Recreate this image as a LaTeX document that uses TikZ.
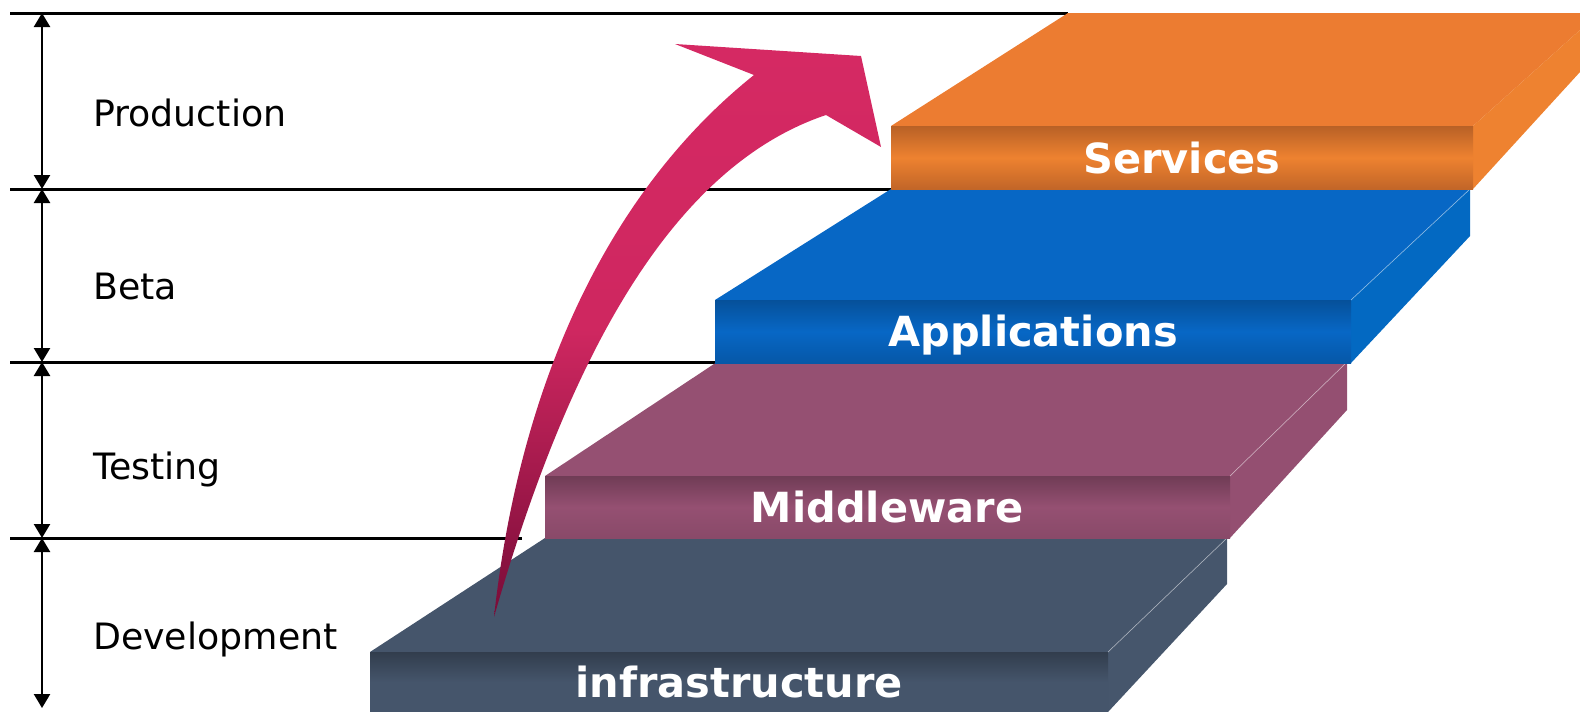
\documentclass[tikz,border=0pt]{standalone}
\usepackage{fontspec}
\setmainfont{DejaVu Sans}
\usetikzlibrary{arrows.meta}
\definecolor{orangetop}{HTML}{EC7C31}
\definecolor{orangeside}{HTML}{EE8230}
\definecolor{bluetop}{HTML}{0767C5}
\definecolor{blueside}{HTML}{0369C2}
\definecolor{plumtop}{HTML}{955072}
\definecolor{plumside}{HTML}{944F71}
\definecolor{slatetop}{HTML}{45556B}
\definecolor{slateside}{HTML}{46566C}
\definecolor{arrowpink}{HTML}{D52963}
\definecolor{arrowdark}{HTML}{790C38}
\tikzset{
  levelline/.style={line width=3pt},
  span/.style={<->,line width=2.5pt},
  lvl/.style={anchor=west,font=\fontsize{36.3}{42}\selectfont,text height=26.5pt,text depth=0pt,inner sep=0pt},
  tier/.style={font=\fontsize{41.5}{48}\selectfont\bfseries,text=white,text height=30pt,text depth=0pt,inner sep=0pt},
  shine/.style={white,opacity=0.45,line width=0.7pt}
}
\begin{document}
\begin{tikzpicture}[x=1pt,y=-1pt,>={Triangle[length=14pt,width=16pt]}]
  \useasboundingbox (0,0) rectangle (1580,712);
  % level lines
  \draw [levelline] (10,13)--(1068,13);
  \draw [levelline] (10,189)--(891,189);
  \draw [levelline] (10,362)--(715,362);
  \draw [levelline] (10,538)--(522,538);
  \coordinate (m0) at (42,13);
  \coordinate (m1) at (42,189);
  \coordinate (m2) at (42,362);
  \coordinate (m3) at (42,538);
  \coordinate (m4) at (42,708);
  \draw [span] (m0)--(m1);
  \draw [span] (m1)--(m2);
  \draw [span] (m2)--(m3);
  \draw [span] (m3)--(m4);
  \node [lvl] (production) at (93,113) {Production};
  \node [lvl] (beta) at (93,286) {Beta};
  \node [lvl] (testing) at (93,466) {Testing};
  \node [lvl] (development) at (93,636) {Development};
  % infrastructure step
  \fill [slatetop] (370,652)--(545,538)--(1227,538)--(1108,652)--cycle;
  \fill [slateside] (1108,652)--(1227,538)--(1227,584)--(1108,712)--cycle;
  \shade [top color=slatetop!72!black,bottom color=slatetop,middle color=slatetop] (370,652)--(1108,652)--(1108,712)--(370,712)--cycle;
  \draw [shine] (1108,652)--(1227,538);
  \node [tier] (infra) at (739,682) {infrastructure};
  % middleware step
  \fill [plumtop] (545,476)--(717,362)--(1347,362)--(1230,476)--cycle;
  \fill [plumside] (1230,476)--(1347,362)--(1347,410)--(1230,538)--cycle;
  \shade [top color=plumtop!75!black,bottom color=plumtop!92!black,middle color=plumtop] (545,476)--(1230,476)--(1230,538)--(545,538)--cycle;
  \draw [shine] (1230,476)--(1347,362);
  \node [tier] (middleware) at (887,507) {Middleware};
  % applications step
  \fill [bluetop] (715,300)--(891,189)--(1470,189)--(1351,300)--cycle;
  \fill [blueside] (1351,300)--(1470,189)--(1470,236)--(1351,363)--cycle;
  \shade [top color=bluetop!78!black,bottom color=bluetop!85!black,middle color=bluetop] (715,300)--(1351,300)--(1351,363)--(715,363)--cycle;
  \draw [shine] (1351,300)--(1470,189);
  \node [tier] (applications) at (1033,331) {Applications};
  % services step
  \fill [orangetop] (891,126)--(1068,13)--(1580,13)--(1580,30)--(1473,126)--cycle;
  \fill [orangeside] (1473,126)--(1580,30)--(1580,72)--(1473,189)--cycle;
  \shade [top color=orangetop!78!black,bottom color=orangetop!82!black,middle color=orangeside] (891,126)--(1473,126)--(1473,189)--(891,189)--cycle;
  \node [tier] (services) at (1182,158) {Services};
  % rising arrow
  \shade [top color=arrowpink,bottom color=arrowdark,middle color=arrowpink!93!arrowdark]
    (494,617) .. controls (520,380) and (610,190) .. (754,75)
    -- (675,44) -- (861,56) -- (881,147) -- (826,115)
    .. controls (662,170) and (562,380) .. (494,617) -- cycle;
\end{tikzpicture}
\end{document}
